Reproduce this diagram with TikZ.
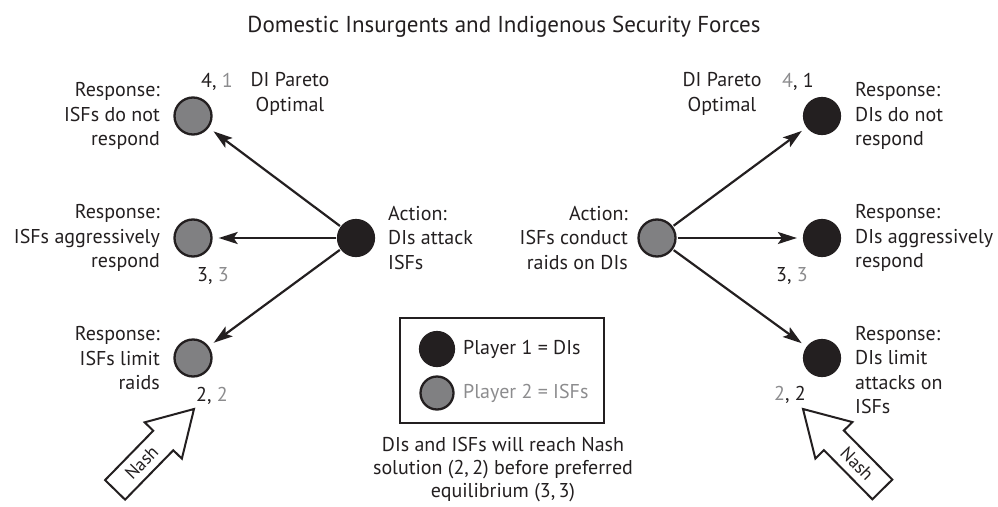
\documentclass[tikz,border=0pt]{standalone}
\usepackage{fontspec}
\setmainfont{PT Sans}
\usetikzlibrary{arrows.meta}
\definecolor{ink}{RGB}{35,31,32}
\definecolor{pgray}{RGB}{128,128,130}
\definecolor{tgray}{RGB}{140,140,142}
\tikzset{
  every node/.style={font=\fontsize{20}{24.5}\selectfont, text=ink, inner sep=0pt},
  pone/.style={circle, fill=ink, draw=ink, line width=1.2pt, minimum size=37pt},
  ptwo/.style={circle, fill=pgray, draw=ink, line width=2.3pt, minimum size=37pt},
  arr/.style={draw=ink, line width=2.2pt, -{Stealth[length=19pt,width=12pt,inset=4pt]}, shorten >=6pt, shorten <=1pt},
  nasharrow/.style={draw=ink, fill=white, line width=2pt, line join=miter},
  nashtext/.style={font=\fontsize{18}{20}\selectfont},
}
\begin{document}
\begin{tikzpicture}[x=1pt,y=-1pt]
\useasboundingbox (0,0) rectangle (998,506);
\node[anchor=base, font=\fontsize{23}{28}\selectfont] (title) at (504,32) {Domestic Insurgents and Indigenous Security Forces};
% left tree
\node[pone] (a1) at (356,238) {};
\node[ptwo] (l1) at (193,116) {};
\node[ptwo] (l2) at (193,238) {};
\node[ptwo] (l3) at (193,358) {};
\draw[arr] (a1) -- (l1);
\draw[arr] (a1) -- (l2);
\draw[arr] (a1) -- (l3);
\node[anchor=east, align=right] (tl1) at (160,116) {Response:\\ISFs do not\\respond};
\node[anchor=east, align=right] (tl2) at (160,238) {Response:\\ISFs aggressively\\respond};
\node[anchor=east, align=right] (tl3) at (160,358.5) {Response:\\ISFs limit\\raids};
\node[anchor=west, align=left] (ta1) at (388,238) {Action:\\DIs attack\\ISFs};
\node[align=center] (par1) at (290,94) {DI Pareto\\Optimal};
\node (p41) at (217,82) {4, \textcolor{tgray}{1}};
\node (p33) at (213,276) {3, \textcolor{tgray}{3}};
\node (p22) at (212,396) {2, \textcolor{tgray}{2}};
% right tree
\node[ptwo] (a2) at (657,238) {};
\node[pone] (r1) at (822,116) {};
\node[pone] (r2) at (822,238) {};
\node[pone] (r3) at (822,358) {};
\draw[arr] (a2) -- (r1);
\draw[arr] (a2) -- (r2);
\draw[arr] (a2) -- (r3);
\node[anchor=west, align=left] (tr1) at (855,116) {Response:\\DIs do not\\respond};
\node[anchor=west, align=left] (tr2) at (855,238) {Response:\\DIs aggressively\\respond};
\node[anchor=west, align=left] (tr3) at (855,370) {Response:\\DIs limit\\attacks on\\ISFs};
\node[anchor=east, align=right] (ta2) at (628,238) {Action:\\ISFs conduct\\raids on DIs};
\node[align=center] (par2) at (722,94) {DI Pareto\\Optimal};
\node (q41) at (798,82) {\textcolor{tgray}{4}, 1};
\node (q33) at (792,276) {3, \textcolor{tgray}{3}};
\node (q22) at (790,395) {\textcolor{tgray}{2}, 2};
% legend
\node[draw=ink, line width=2pt, minimum width=204pt, minimum height=105pt] (legend) at (502,370.5) {};
\node[pone, minimum size=35pt] (lg1) at (437,349) {};
\node[ptwo, minimum size=33pt] (lg2) at (437,393) {};
\node[anchor=west] (lt1) at (463,349) {Player 1 = DIs};
\node[anchor=west, text=tgray] (lt2) at (463,393) {Player 2 = ISFs};
\node[align=center, font=\fontsize{20}{23}\selectfont] (cap) at (503,470) {DIs and ISFs will reach Nash\\solution (2,\,2) before preferred\\equilibrium (3,\,3)};
% Nash arrows
\coordinate (nashL) at (194,409);
\begin{scope}[shift={(nashL)}, rotate=45.7]
  \draw[nasharrow] (0,0) -- (-44,26) -- (-44,14) -- (-113,14) -- (-113,-14) -- (-44,-14) -- (-44,-26) -- cycle;
  \node[nashtext, rotate=45.7] (nl) at (-75,0) {Nash};
\end{scope}
\coordinate (nashR) at (803,409);
\begin{scope}[shift={(nashR)}, rotate=134.6]
  \draw[nasharrow] (0,0) -- (-44,26) -- (-44,14) -- (-113,14) -- (-113,-14) -- (-44,-14) -- (-44,-26) -- cycle;
  \node[nashtext, rotate=-45.4] (nr) at (-77,0) {Nash};
\end{scope}
\end{tikzpicture}
\end{document}
